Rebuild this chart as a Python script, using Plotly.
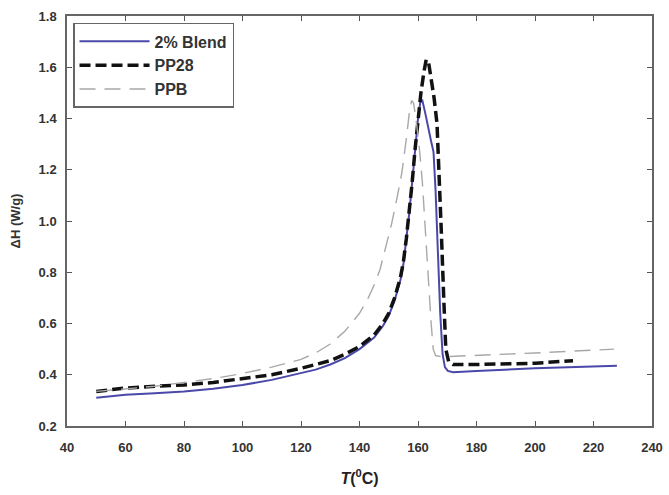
import plotly.graph_objects as go

# 2% Blend (solid blue)
t_blend = [50, 60, 70, 80, 90, 100, 110, 120, 125, 130, 135, 140, 145, 148, 150, 152, 154, 155, 156, 157, 158, 159, 160, 160.8, 161.5, 162.5, 163.5, 164.5, 165.3, 166, 166.8, 167.6, 168.4, 169.2, 170.2, 172, 180, 200, 228]
h_blend = [0.31, 0.322, 0.328, 0.335, 0.345, 0.36, 0.38, 0.405, 0.42, 0.44, 0.465, 0.50, 0.545, 0.59, 0.63, 0.69, 0.77, 0.83, 0.92, 1.03, 1.15, 1.28, 1.40, 1.465, 1.47, 1.42, 1.36, 1.31, 1.27, 1.12, 0.88, 0.64, 0.48, 0.43, 0.415, 0.41, 0.415, 0.425, 0.435]

# PP28 (thick black dashes)
t_pp28 = [50, 60, 70, 80, 90, 100, 110, 120, 130, 135, 140, 145, 148, 150, 152, 154, 155, 156, 157, 158, 159, 160, 161, 162, 162.8, 163.6, 164.5, 165.5, 166.5, 167.2, 168, 168.8, 169.5, 170.5, 172, 180, 200, 213]
h_pp28 = [0.335, 0.348, 0.355, 0.36, 0.37, 0.385, 0.40, 0.425, 0.455, 0.48, 0.51, 0.555, 0.60, 0.64, 0.70, 0.78, 0.84, 0.93, 1.03, 1.15, 1.28, 1.40, 1.50, 1.58, 1.63, 1.62, 1.56, 1.48, 1.38, 1.20, 0.95, 0.70, 0.50, 0.45, 0.44, 0.44, 0.445, 0.455]

# PPB (thin grey long dashes)
t_ppb = [50, 60, 70, 80, 90, 100, 110, 120, 125, 130, 135, 140, 143, 145, 147, 149, 151, 153, 154.5, 156, 157, 157.8, 158.5, 159.5, 160.5, 161.5, 162.5, 163.5, 164.5, 165.2, 166, 168, 180, 200, 227]
h_ppb = [0.335, 0.345, 0.355, 0.37, 0.385, 0.405, 0.43, 0.46, 0.485, 0.52, 0.57, 0.64, 0.70, 0.75, 0.81, 0.90, 0.99, 1.10, 1.19, 1.32, 1.42, 1.47, 1.46, 1.38, 1.28, 1.15, 0.95, 0.75, 0.60, 0.50, 0.475, 0.47, 0.475, 0.485, 0.50]

x_ticks = [40, 60, 80, 100, 120, 140, 160, 180, 200, 220, 240]
y_ticks = [0.2, 0.4, 0.6, 0.8, 1.0, 1.2, 1.4, 1.6, 1.8]

fig = go.Figure()
fig.add_trace(go.Scatter(x=t_blend, y=h_blend, mode="lines", name="2% Blend",
                         line=dict(color="#4a48a8", width=2)))
fig.add_trace(go.Scatter(x=t_pp28, y=h_pp28, mode="lines", name="PP28",
                         line=dict(color="#111111", width=3.5, dash="11px,5px")))
fig.add_trace(go.Scatter(x=t_ppb, y=h_ppb, mode="lines", name="PPB",
                         line=dict(color="#a8a8a8", width=1.4, dash="16px,9px")))

axis_font = dict(family="Arial, Liberation Sans, sans-serif", size=13, color="#333333")

fig.update_layout(
    width=669, height=495,
    margin=dict(l=67, r=17, t=16, b=69),
    paper_bgcolor="white", plot_bgcolor="white",
    font=axis_font,
    showlegend=True,
    legend=dict(
        x=0.0103, y=0.983, xanchor="left", yanchor="top",
        bordercolor="#666666", borderwidth=1.5, bgcolor="white",
        font=dict(family="Arial, Liberation Sans, sans-serif", size=16, color="#333333", weight="bold"),
        itemwidth=70,
    ),
    xaxis=dict(
        range=[40, 240], tickvals=x_ticks, ticktext=[str(v) for v in x_ticks],
        ticks="inside", ticklen=5, tickcolor="#555555", tickwidth=1,
        showline=True, linecolor="#666666", linewidth=1.5, mirror="ticks",
        showgrid=False, zeroline=False,
        tickfont=dict(family="Arial, Liberation Sans, sans-serif", size=13, color="#333333", weight="bold"),
        ticklabelstandoff=9,
        title=dict(text="<i>T</i>(<sup>0</sup>C)", standoff=18,
                   font=dict(family="Arial, Liberation Sans, sans-serif", size=16, color="#222222", weight="bold")),
        automargin=False,
    ),
    yaxis=dict(
        range=[0.2, 1.8], tickvals=y_ticks, ticktext=["%.1f" % v for v in y_ticks],
        ticks="inside", ticklen=5, tickcolor="#555555", tickwidth=1,
        showline=True, linecolor="#666666", linewidth=1.5, mirror="ticks",
        showgrid=False, zeroline=False,
        tickfont=dict(family="Arial, Liberation Sans, sans-serif", size=13, color="#333333", weight="bold"),
        ticklabelstandoff=6,
        title=dict(text="ΔH (W/g)", standoff=15,
                   font=dict(family="Arial, Liberation Sans, sans-serif", size=13, color="#333333", weight="bold")),
        automargin=False,
    ),
)

fig.write_html("out.html")
